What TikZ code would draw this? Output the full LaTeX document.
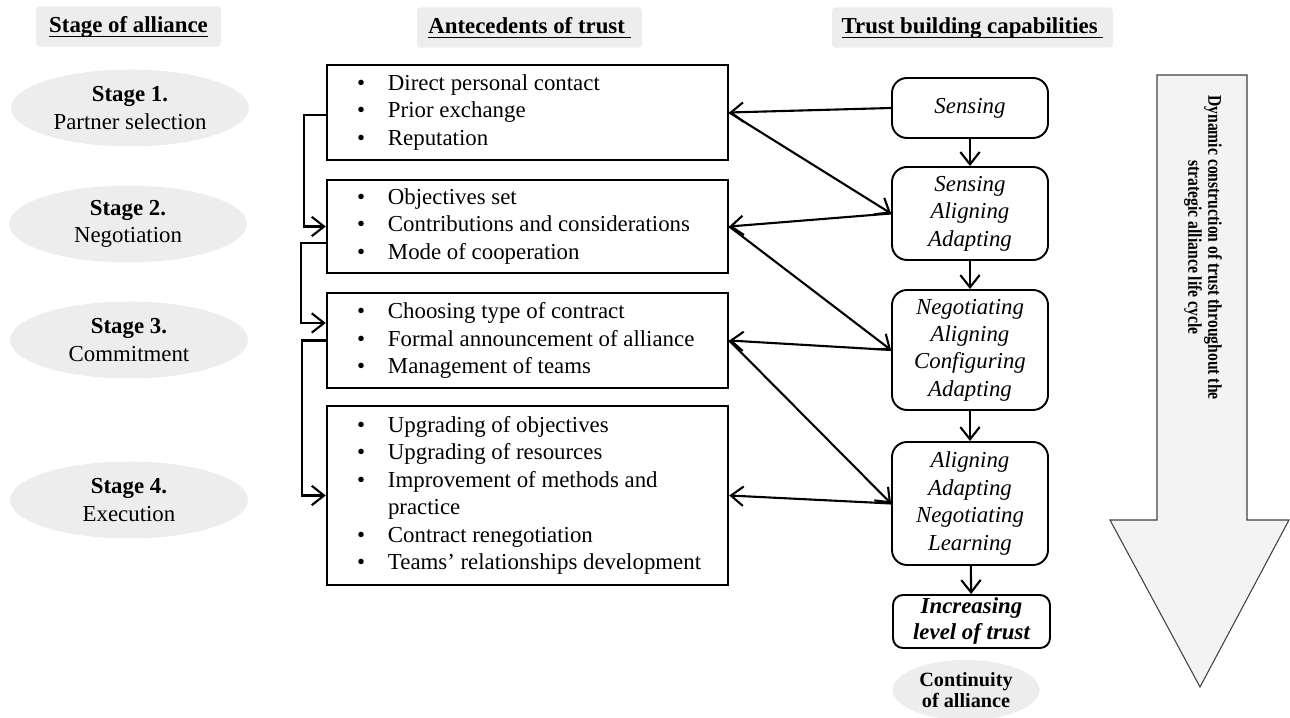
\documentclass[tikz,border=0pt]{standalone}
\usepackage{fontspec}
\setmainfont{Liberation Serif}
\usepackage{graphicx}
\usetikzlibrary{arrows.meta, shapes.geometric, calc}
\definecolor{lgray}{RGB}{237,237,237}
\definecolor{agray}{RGB}{243,243,243}
\newcommand{\bul}{\hspace*{0.15cm}\makebox[0.62cm][l]{\textbullet}}
\newcommand{\ind}{\hspace*{0.77cm}}
\newcommand{\hdline}[1]{\setbox0\hbox{#1}\rlap{\rule[-2.6pt]{\wd0}{0.9pt}}\box0}

\begin{document}
\begin{tikzpicture}[
  font=\fontsize{13}{15.6}\selectfont,
  head/.style={fill=lgray,rounded corners=2pt,text height=9pt,text depth=2pt,
               inner ysep=0.21cm,inner xsep=0pt,
               font=\fontsize{13}{15.6}\selectfont\bfseries},
  stage/.style={ellipse,fill=lgray,minimum width=4.76cm,minimum height=1.54cm,
                inner sep=0pt,align=center},
  ante/.style={draw,line width=1.4pt,text width=7.12cm,inner xsep=0.45cm,inner ysep=0pt,
               align=flush left},
  capb/.style={draw,line width=1.1pt,rounded corners=0.3cm,minimum width=3.12cm,
               inner sep=0pt,align=center,font=\fontsize{13}{15.6}\selectfont\itshape},
  arr/.style={-{Straight Barb[length=7pt,width=11pt]},line width=1.2pt},
  bigarr/.style={draw=black!75,fill=agray,line width=0.6pt}
]
\useasboundingbox (0,0) rectangle (25.8,-14.36);

\node[head,minimum width=3.7cm] (h1) at (2.57,-0.53) {\hdline{Stage of alliance}};
\node[head,minimum width=4.5cm] (h2) at (10.59,-0.55) {\hdline{Antecedents of trust\ }};
\node[head,minimum width=5.62cm] (h3) at (19.45,-0.55) {\hdline{Trust building capabilities\ }};

\node[stage] (s1) at (2.6,-2.16)  {\textbf{Stage 1.}\\Partner selection};
\node[stage] (s2) at (2.56,-4.48) {\textbf{Stage 2.}\\Negotiation};
\node[stage] (s3) at (2.58,-6.8)  {\textbf{Stage 3.}\\Commitment};
\node[stage] (s4) at (2.58,-10.0) {\textbf{Stage 4.}\\Execution};

\node[ante,minimum height=1.9cm] (a1) at (10.55,-2.25)
  {\bul Direct personal contact\\\bul Prior exchange\\\bul Reputation};
\node[ante,minimum height=1.86cm] (a2) at (10.55,-4.53)
  {\bul Objectives set\\\bul Contributions and considerations\\\bul Mode of cooperation};
\node[ante,minimum height=1.9cm] (a3) at (10.55,-6.81)
  {\bul Choosing type of contract\\\bul Formal announcement of alliance\\\bul Management of teams};
\node[ante,minimum height=3.58cm] (a4) at (10.55,-9.91)
  {\bul Upgrading of objectives\\\bul Upgrading of resources\\\bul Improvement of methods and\\
   \ind practice\\\bul Contract renegotiation\\\bul Teams’ relationships development};

\node[capb,minimum height=1.2cm]  (c1) at (19.4,-2.16)  {Sensing};
\node[capb,minimum height=1.86cm] (c2) at (19.4,-4.27)  {Sensing\\Aligning\\Adapting};
\node[capb,minimum height=2.4cm]  (c3) at (19.4,-7.0)   {Negotiating\\Aligning\\Configuring\\Adapting};
\node[capb,minimum height=2.46cm] (c4) at (19.4,-10.07) {Aligning\\Adapting\\Negotiating\\Learning};
\node[capb,minimum height=1.06cm,minimum width=3.14cm,rounded corners=0.2cm,
      font=\fontsize{13}{14.8}\selectfont\bfseries\itshape] (trust) at (19.43,-12.43)
  {Increasing\\level of trust};
\node[ellipse,fill=lgray,minimum width=2.94cm,minimum height=1.2cm,inner sep=0pt,align=center,
      font=\fontsize{11.5}{11.6}\selectfont\bfseries] (cont) at (19.32,-13.8)
  {Continuity\\of alliance};

\draw[bigarr] (23.14,-1.5) -- (24.94,-1.5) -- (24.94,-10.4) -- (25.78,-10.4)
  -- (24.0,-13.74) -- (22.2,-10.4) -- (23.14,-10.4) -- cycle;
\node[rotate=-90,align=center,font=\fontsize{11}{11.4}\selectfont\bfseries] (dyn) at (24.06,-4.95)
  {\scalebox{0.81}[1]{Dynamic construction of trust throughout the}\\
   \scalebox{0.81}[1]{strategic alliance life cycle}};

\draw[arr] (c1) -- (c2);
\draw[arr] (c2) -- (c3);
\draw[arr] (c3) -- (c4);
\draw[arr] (c4) -- (trust);

\draw[arr] (c1.west) -- (a1.east);
\draw[arr] (a1.east) -- (c2.west);
\draw[arr] (c2.west) -- (a2.east);
\draw[arr] (a2.east) -- (c3.west);
\draw[arr] (c3.west) -- (a3.east);
\draw[arr] (a3.east) -- (c4.west);
\draw[arr] (c4.west) -- (a4.east);

\draw[arr] ($(a1.west)+(0,-0.05)$) -- ++(-0.44,0) |- (a2.west);
\draw[arr] ($(a2.west)+(0,-0.33)$) -- ++(-0.5,0) |- ($(a3.west)+(0,0.35)$);
\draw[arr] (a3.west) -- ++(-0.48,0) |- (a4.west);
\end{tikzpicture}
\end{document}
